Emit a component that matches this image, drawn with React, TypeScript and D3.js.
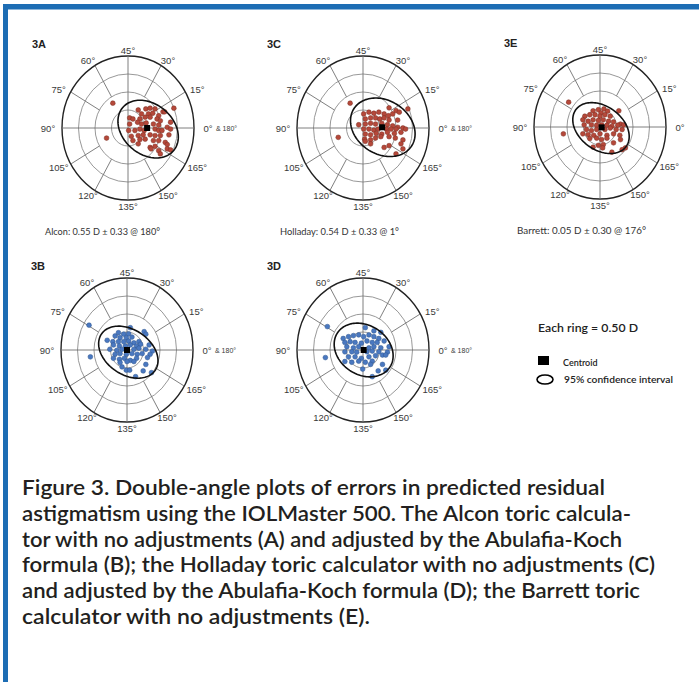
import React, { useEffect, useRef } from "react";
import * as d3 from "d3";

type Pt = [number, number];

// residual astigmatism errors in the double-angle plane (diopters: x toward 0°, y toward 45°)
const alconPoints: Pt[] = [
  [-0.46, 0.69], [-0.65, -0.28], [1.39, 0.55], [1.06, 0.45], [1.11, 0.45],
  [0.31, 0.5], [0.54, 0.53], [0.67, 0.55], [0.82, 0.53], [0.41, 0.39],
  [0.62, 0.39], [0.75, 0.41], [0.93, 0.34], [0.05, 0.28], [0.15, 0.25],
  [0.36, 0.25], [0.52, 0.3], [0.67, 0.3], [0.88, 0.25], [0.98, 0.2],
  [1.29, 0.16], [0.05, 0.11], [0.29, 0.16], [0.41, 0.11], [0.55, 0.14],
  [0.77, 0.11], [0.93, 0.08], [1.19, 0.02], [1.29, -0.03], [0.02, -0.07],
  [0.21, -0.07], [0.36, -0.03], [0.49, -0.07], [0.82, -0.03], [0.93, -0.07],
  [1.03, -0.07], [0.1, -0.23], [0.31, -0.21], [0.46, -0.19], [0.67, -0.19],
  [0.82, -0.21], [0.98, -0.21], [1.24, -0.19], [0.15, -0.35], [0.36, -0.32],
  [0.52, -0.31], [0.77, -0.35], [0.93, -0.35], [1.13, -0.4], [0.31, -0.44],
  [0.67, -0.54], [0.82, -0.51], [1.19, -0.46], [0.7, -0.58], [0.93, -0.63],
  [1.19, -0.58], [1.29, -0.61], [0.98, -0.72],
];

const alconAKPoints: Pt[] = [
  [-1.15, 0.69], [-1.11, -0.19], [0.1, 0.62], [0.52, 0.51], [0.57, 0.44],
  [-0.26, 0.48], [-0.1, 0.44], [0.05, 0.45], [-0.36, 0.39], [-0.21, 0.34],
  [-0.02, 0.34], [0.15, 0.36], [-0.6, 0.27], [-0.43, 0.23], [-0.26, 0.23],
  [-0.1, 0.23], [0.05, 0.25], [0.21, 0.2], [0.36, 0.23], [-0.41, 0.14],
  [-0.23, 0.11], [-0.05, 0.11], [0.1, 0.14], [0.29, 0.11], [0.41, 0.16],
  [0.67, 0.14], [-0.52, 0.02], [-0.31, -0.01], [-0.15, 0.02], [0.21, 0.02],
  [0.36, 0.05], [0.57, 0.02], [0.77, -0.03], [-0.36, -0.12], [-0.21, -0.1],
  [-0.02, -0.12], [0.15, -0.1], [0.31, -0.12], [0.46, -0.1], [0.7, -0.12],
  [-0.41, -0.23], [-0.23, -0.26], [-0.08, -0.23], [0.1, -0.29], [0.29, -0.23],
  [0.62, -0.21], [-0.21, -0.35], [0.0, -0.32], [0.21, -0.32], [0.57, -0.4],
  [-0.02, -0.56], [0.08, -0.56], [0.49, -0.58], [0.74, -0.63], [0.26, -0.74],
  [-0.15, -0.47],
];

const holladayPoints: Pt[] = [
  [-0.39, 0.69], [-0.75, -0.26], [1.36, 0.53], [0.79, 0.56], [1.0, 0.48],
  [1.1, 0.44], [0.02, 0.39], [0.18, 0.44], [0.33, 0.41], [0.48, 0.44],
  [0.64, 0.39], [0.77, 0.34], [0.9, 0.39], [-0.13, 0.09], [0.07, 0.25],
  [0.23, 0.28], [0.38, 0.28], [0.51, 0.25], [0.64, 0.28], [0.79, 0.22],
  [1.05, 0.22], [0.07, 0.11], [0.23, 0.13], [0.38, 0.11], [0.57, 0.13],
  [0.74, 0.09], [0.9, 0.06], [1.05, 0.02], [1.21, 0.0], [0.02, -0.03],
  [0.18, -0.03], [0.33, -0.06], [0.46, -0.03], [0.71, -0.03], [0.85, -0.03],
  [1.0, -0.03], [1.29, -0.03], [0.07, -0.17], [0.23, -0.19], [0.4, -0.15],
  [0.57, -0.17], [0.74, -0.12], [0.95, -0.15], [1.15, -0.12], [0.05, -0.31],
  [0.23, -0.33], [0.38, -0.28], [0.54, -0.24], [0.79, -0.24], [0.98, -0.28],
  [1.21, -0.33], [0.23, -0.44], [0.64, -0.54], [0.79, -0.49], [1.21, -0.58],
  [1.0, -0.72], [0.07, -0.37], [1.15, -0.44],
];

const holladayAKPoints: Pt[] = [
  [-1.08, 0.65], [-1.14, -0.21], [0.07, 0.62], [0.33, 0.53], [0.54, 0.49],
  [-0.6, 0.32], [-0.44, 0.37], [-0.29, 0.4], [-0.13, 0.42], [0.02, 0.37],
  [0.18, 0.42], [0.33, 0.37], [0.48, 0.32], [-0.55, 0.21], [-0.39, 0.23],
  [-0.24, 0.21], [-0.05, 0.19], [0.12, 0.25], [0.28, 0.21], [0.43, 0.21],
  [0.64, 0.25], [-0.49, 0.09], [-0.29, 0.06], [-0.13, 0.09], [0.18, 0.06],
  [0.33, 0.09], [0.54, 0.06], [0.79, 0.09], [-0.55, -0.05], [-0.34, -0.05],
  [-0.19, -0.06], [0.12, -0.05], [0.28, -0.03], [0.48, -0.05], [0.74, -0.06],
  [-0.44, -0.19], [-0.24, -0.19], [-0.05, -0.23], [0.18, -0.19], [0.38, -0.16],
  [0.59, -0.14], [-0.55, -0.32], [-0.34, -0.34], [-0.13, -0.31], [0.07, -0.34],
  [0.28, -0.31], [-0.01, -0.53], [0.23, -0.4], [0.59, -0.4], [0.46, -0.58],
  [0.69, -0.56], [0.28, -0.74], [0.69, -0.14],
];

const barrettPoints: Pt[] = [
  [-0.95, 0.69], [-1.11, -0.19], [0.57, 0.45], [-0.21, 0.45], [-0.05, 0.48],
  [0.12, 0.5], [0.23, 0.44], [0.03, 0.39], [-0.46, 0.3], [-0.31, 0.34],
  [-0.15, 0.34], [0.0, 0.3], [0.15, 0.34], [0.31, 0.3], [-0.52, 0.2],
  [-0.36, 0.16], [-0.21, 0.2], [-0.05, 0.18], [0.1, 0.2], [0.26, 0.16],
  [0.41, 0.14], [0.62, 0.08], [-0.48, 0.06], [-0.26, 0.06], [-0.1, 0.05],
  [0.05, 0.06], [0.21, 0.05], [0.36, 0.02], [0.54, 0.05], [0.72, 0.06],
  [-0.41, -0.07], [-0.26, -0.1], [-0.1, -0.07], [0.15, -0.07], [0.31, -0.03],
  [0.49, -0.07], [0.67, -0.07], [-0.52, -0.19], [-0.36, -0.21], [-0.19, -0.23],
  [0.0, -0.19], [0.21, -0.23], [0.41, -0.19], [0.6, -0.23], [-0.31, -0.32],
  [-0.1, -0.31], [0.05, -0.35], [0.21, -0.31], [0.62, -0.35], [-0.05, -0.51],
  [0.1, -0.49], [0.41, -0.44], [0.77, -0.58], [0.67, -0.63], [0.08, -0.58],
  [0.36, -0.7], [-0.21, -0.56],
];

// centroids [x, y] in D
const centroids: Pt[] = [
  [0.58, 0.0], // A
  [0.0, 0.0], // B
  [0.58, 0.02], // C
  [0.02, 0.0], // D
  [0.05, -0.01], // E
];

// 95% confidence ellipses: [cx, cy, semi-major, semi-minor, tilt deg]
const ellipses: number[][] = [
  [0.61, -0.03, 0.98, 0.72, -32],
  [0.04, -0.06, 0.96, 0.64, -28],
  [0.6, 0.02, 1.02, 0.76, -25],
  [0.02, 0.0, 0.93, 0.7, -25],
  [0.03, -0.03, 0.92, 0.62, -30],
];

const panelNames = ["3A", "3B", "3C", "3D", "3E"];
const panelNotes = [
  "Alcon: 0.55 D ± 0.33 @ 180°",
  "",
  "Holladay: 0.54 D ± 0.33 @ 1°",
  "",
  "Barrett: 0.05 D ± 0.30 @ 176°",
];
const noteWidths = [115, 0, 119, 0, 129];
const angleLabels = [0, 15, 30, 45, 60, 75, 90, 105, 120, 135, 150, 165];
const rings = [0.5, 1, 1.5, 2];

const captionLines = [
  "Figure 3. Double-angle plots of errors in predicted residual",
  "astigmatism using the IOLMaster 500. The Alcon toric calcula-",
  "tor with no adjustments (A) and adjusted by the Abulafia-Koch",
  "formula (B); the Holladay toric calculator with no adjustments (C)",
  "and adjusted by the Abulafia-Koch formula (D); the Barrett toric",
  "calculator with no adjustments (E).",
];
const captionWidths = [583, 609, 600, 633, 618, 348];

const App: React.FC = () => {
  const svgRef = useRef<SVGSVGElement | null>(null);

  useEffect(() => {
    if (!svgRef.current) return;
    const svg = d3.select(svgRef.current);
    svg.selectAll("*").remove();

    const width = 699;
    const height = 682;
    svg.attr("width", width).attr("height", height);

    svg.append("rect").attr("width", width).attr("height", height).attr("fill", "#fff");

    // blue frame
    const blue = "#1d6db4";
    svg.append("rect").attr("x", 3).attr("y", 4).attr("width", width - 3).attr("height", 5.5).attr("fill", blue);
    svg.append("rect").attr("x", 3).attr("y", 4).attr("width", 5).attr("height", height - 4).attr("fill", blue);

    const panels = [
      { cx: 128, cy: 128, pts: alconPoints, color: "red", and180: true },
      { cx: 127, cy: 350, pts: alconAKPoints, color: "blue", and180: true },
      { cx: 363, cy: 128, pts: holladayPoints, color: "red", and180: true },
      { cx: 363, cy: 350, pts: holladayAKPoints, color: "blue", and180: true },
      { cx: 600, cy: 127, pts: barrettPoints, color: "red", and180: false },
    ];
    const rx = 66;
    const ry = 72;
    const fontLabel = "'Liberation Sans', Arial, sans-serif";
    const fontCond = "Lato, 'Open Sans', sans-serif";

    panels.forEach((p, i) => {
      const x = d3.scaleLinear().domain([-2, 2]).range([p.cx - rx, p.cx + rx]);
      const y = d3.scaleLinear().domain([-2, 2]).range([p.cy + ry, p.cy - ry]);
      const g = svg.append("g");

      // rings
      g.selectAll("ellipse.ring")
        .data(rings)
        .enter()
        .append("ellipse")
        .attr("cx", x(0))
        .attr("cy", y(0))
        .attr("rx", (r) => x(r) - x(0))
        .attr("ry", (r) => y(0) - y(r))
        .attr("fill", "none")
        .attr("stroke", (r) => (r === 2 ? "#222" : "#8c8c8c"))
        .attr("stroke-width", (r) => (r === 2 ? 1.4 : 0.9));

      // spokes (display angle = 2 x meridian)
      const spokes = d3.range(0, 360, 30);
      g.selectAll("line.spoke")
        .data(spokes)
        .enter()
        .append("line")
        .attr("x1", (a) => x((a % 90 === 0 ? 0 : 1) * Math.cos((a * Math.PI) / 180)))
        .attr("y1", (a) => y((a % 90 === 0 ? 0 : 1) * Math.sin((a * Math.PI) / 180)))
        .attr("x2", (a) => x(2 * Math.cos((a * Math.PI) / 180)))
        .attr("y2", (a) => y(2 * Math.sin((a * Math.PI) / 180)))
        .attr("stroke", "#707070")
        .attr("stroke-width", 0.9);

      // angle labels
      g.selectAll("text.ang")
        .data(angleLabels)
        .enter()
        .append("text")
        .attr("x", (d) => x(0) + (rx + 14) * Math.cos((2 * d * Math.PI) / 180))
        .attr("y", (d) => y(0) - (ry + 6) * Math.sin((2 * d * Math.PI) / 180))
        .attr("text-anchor", "middle")
        .attr("dominant-baseline", "central")
        .attr("font-family", fontLabel)
        .attr("font-size", 9.5)
        .attr("fill", "#3a3a3a")
        .text((d) => `${d}°`);

      if (p.and180) {
        g.append("text")
          .attr("x", x(0) + rx + 22)
          .attr("y", y(0))
          .attr("dominant-baseline", "central")
          .attr("font-family", fontLabel)
          .attr("font-size", 7)
          .attr("fill", "#3a3a3a")
          .text("& 180°");
      }

      // points
      const fill = p.color === "red" ? "#b5483a" : "#4a78c0";
      const stroke = p.color === "red" ? "#7a2e22" : "#2f568f";
      g.selectAll("circle.pt")
        .data(p.pts)
        .enter()
        .append("circle")
        .attr("cx", (d) => x(d[0]))
        .attr("cy", (d) => y(d[1]))
        .attr("r", 2.4)
        .attr("fill", fill)
        .attr("stroke", stroke)
        .attr("stroke-width", 0.5);

      // 95% ellipse
      const [ecx, ecy, ea, eb, et] = ellipses[i];
      const th = (et * Math.PI) / 180;
      const outline: Pt[] = d3.range(0, 360, 3).map((t) => {
        const r = (t * Math.PI) / 180;
        const u = ea * Math.cos(r);
        const v = eb * Math.sin(r);
        return [ecx + u * Math.cos(th) - v * Math.sin(th), ecy + u * Math.sin(th) + v * Math.cos(th)];
      });
      const line = d3
        .line<Pt>()
        .x((d) => x(d[0]))
        .y((d) => y(d[1]))
        .curve(d3.curveLinearClosed);
      g.append("path").attr("d", line(outline)).attr("fill", "none").attr("stroke", "#111").attr("stroke-width", 1.6);

      // centroid
      const c = centroids[i];
      g.append("rect")
        .attr("x", x(c[0]) - 3)
        .attr("y", y(c[1]) - 3)
        .attr("width", 6)
        .attr("height", 6)
        .attr("fill", "#000");

      // panel name
      g.append("text")
        .attr("x", p.cx - 96)
        .attr("y", p.cy - 80)
        .attr("font-family", fontLabel)
        .attr("font-weight", "bold")
        .attr("font-size", 11)
        .attr("fill", "#222")
        .text(panelNames[i]);

      if (panelNotes[i]) {
        g.append("text")
          .attr("x", p.cx - 83)
          .attr("y", p.cy + 107)
          .attr("font-family", fontCond)
          .attr("font-size", 9.5)
          .attr("fill", "#333")
          .attr("textLength", noteWidths[i])
          .attr("lengthAdjust", "spacingAndGlyphs")
          .text(panelNotes[i]);
      }
    });

    // legend
    const lg = svg.append("g").attr("font-family", fontCond).attr("font-weight", 600).attr("fill", "#222");
    lg.append("text")
      .attr("x", 538)
      .attr("y", 332)
      .attr("font-size", 12)
      .attr("textLength", 100)
      .attr("lengthAdjust", "spacingAndGlyphs")
      .text("Each ring = 0.50 D");
    lg.append("rect").attr("x", 538).attr("y", 356).attr("width", 11).attr("height", 9).attr("fill", "#000");
    lg.append("text").attr("x", 563).attr("y", 365.5).attr("font-size", 9).text("Centroid");
    lg.append("ellipse")
      .attr("cx", 545)
      .attr("cy", 379.5)
      .attr("rx", 8)
      .attr("ry", 4.5)
      .attr("fill", "none")
      .attr("stroke", "#000")
      .attr("stroke-width", 1.6);
    lg.append("text")
      .attr("x", 564)
      .attr("y", 382.5)
      .attr("font-size", 9)
      .attr("textLength", 109)
      .attr("lengthAdjust", "spacingAndGlyphs")
      .text("95% confidence interval");

    // caption
    const cap = svg.append("g").attr("font-family", fontCond).attr("font-weight", 600).attr("fill", "#231f20");
    captionLines.forEach((t, i) => {
      cap
        .append("text")
        .attr("x", 22)
        .attr("y", 495 + i * 25.8)
        .attr("font-size", 21)
        .attr("textLength", captionWidths[i])
        .attr("lengthAdjust", "spacingAndGlyphs")
        .text(t);
    });
  }, []);

  return (
    <div style={{ position: "absolute", left: 0, top: 0 }}>
      <svg ref={svgRef} style={{ display: "block" }}></svg>
    </div>
  );
};

export default App;
